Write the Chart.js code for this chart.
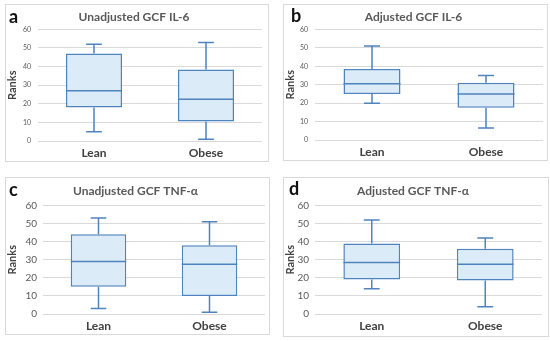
<!DOCTYPE html>
<html lang="en">
  <head>
    <meta charset="UTF-8" />
    <title>GCF IL-6 / TNF-alpha ranks</title>
    <script src="https://cdn.jsdelivr.net/npm/chart.js"></script>
    <style>
      body { margin: 0; background: #fff; width: 550px; height: 341px; position: relative; overflow: hidden; }
      .panel { position: absolute; border: 1px solid #d9d9d9; box-sizing: border-box; }
      .panel canvas { position: absolute; left: 0; top: 0; }
      .letter { position: absolute; font-family: Lato, "Open Sans", Arial, sans-serif; font-weight: 700; font-size: 18px; color: #111; line-height: 1; }
    </style>
  </head>
  <body>
    <div class="panel" id="pa" style="left:5px;top:4px;width:264px;height:158px"><canvas id="ca" width="262" height="156"></canvas></div>
    <div class="panel" id="pb" style="left:283px;top:4px;width:265px;height:157px"><canvas id="cb" width="263" height="155"></canvas></div>
    <div class="panel" id="pc" style="left:5px;top:177px;width:265px;height:158px"><canvas id="cc" width="263" height="156"></canvas></div>
    <div class="panel" id="pd" style="left:283px;top:177px;width:266px;height:160px"><canvas id="cd" width="264" height="158"></canvas></div>
    <span class="letter" style="left:9px;top:7px">a</span>
    <span class="letter" style="left:291px;top:6px">b</span>
    <span class="letter" style="left:9px;top:180px">c</span>
    <span class="letter" style="left:289px;top:179px">d</span>

    <script>
      // categories
      const groups = ["Lean", "Obese"];
      const yTicks = [0, 10, 20, 30, 40, 50, 60];

      // five number summaries: [min, q1, median, q3, max]
      const unadjIL6Lean = [5, 18, 27, 47, 52];
      const unadjIL6Obese = [1, 10.5, 22.5, 38.5, 53];
      const adjIL6Lean = [20, 25, 30.5, 38.5, 51];
      const adjIL6Obese = [6.5, 17.5, 25, 31, 35];
      const unadjTNFLean = [3, 15, 29, 44, 53];
      const unadjTNFObese = [1, 10, 27.5, 38, 51];
      const adjTNFLean = [14, 19, 28.5, 39, 52];
      const adjTNFObese = [4, 18.5, 27.5, 36, 42];

      const FONT = "Lato, 'Open Sans', Arial, sans-serif";
      const BOX_FILL = "#dcebf8";
      const BOX_LINE = "#4f83bd";

      // whiskers + median, drawn from the y scale
      const whiskerPlugin = {
        id: "whiskers",
        afterDatasetsDraw(chart) {
          const ctx = chart.ctx;
          const y = chart.scales.y;
          const stats = chart.options.plugins.whiskers.stats;
          const meta = chart.getDatasetMeta(0);
          ctx.save();
          ctx.strokeStyle = BOX_LINE;
          ctx.lineWidth = 1.5;
          meta.data.forEach((bar, i) => {
            const s = stats[i];
            const half = bar.width / 2;
            const cap = bar.width * 0.14;
            const yMin = y.getPixelForValue(s[0]);
            const yQ1 = y.getPixelForValue(s[1]);
            const yMed = y.getPixelForValue(s[2]);
            const yQ3 = y.getPixelForValue(s[3]);
            const yMax = y.getPixelForValue(s[4]);
            ctx.beginPath();
            ctx.moveTo(bar.x - half, yMed); ctx.lineTo(bar.x + half, yMed);
            ctx.moveTo(bar.x, yQ3); ctx.lineTo(bar.x, yMax);
            ctx.moveTo(bar.x - cap, yMax); ctx.lineTo(bar.x + cap, yMax);
            ctx.moveTo(bar.x, yQ1); ctx.lineTo(bar.x, yMin);
            ctx.moveTo(bar.x - cap, yMin); ctx.lineTo(bar.x + cap, yMin);
            ctx.stroke();
          });
          ctx.restore();
        },
      };

      function makeBox(id, title, lean, obese, opt) {
        const stats = [lean, obese];
        new Chart(document.getElementById(id), {
          type: "bar",
          data: {
            labels: groups,
            datasets: [
              {
                data: stats.map((s) => [s[1], s[3]]),
                backgroundColor: BOX_FILL,
                borderColor: BOX_LINE,
                borderWidth: 1.5,
                borderSkipped: false,
                categoryPercentage: 1,
                barPercentage: 0.5,
              },
            ],
          },
          options: {
            responsive: false,
            animation: false,
            layout: { padding: { left: 0, right: opt.right, top: 0, bottom: 0 } },
            plugins: {
              legend: { display: false },
              tooltip: { enabled: false },
              title: {
                display: true,
                text: title,
                color: "#595959",
                font: { family: FONT, size: 12, weight: "bold" },
                padding: { top: opt.titleTop, bottom: opt.titleBottom },
              },
              whiskers: { stats: stats },
            },
            scales: {
              x: {
                grid: { display: false, drawTicks: false },
                border: { display: false },
                ticks: { color: "#404040", font: { family: FONT, size: 12, weight: "bold" }, padding: opt.catPad },
                afterFit: (s) => { s.height = opt.xh; },
              },
              y: {
                min: 0,
                max: 60,
                afterBuildTicks: (s) => { s.ticks = yTicks.map((v) => ({ value: v })); },
                grid: { color: "#d9d9d9", drawTicks: false, lineWidth: 1 },
                border: { display: false },
                ticks: { color: "#595959", font: { family: FONT, size: opt.tickSize }, padding: opt.tickPad },
                title: { display: true, text: "Ranks", color: "#404040", font: { family: FONT, size: 11, weight: "bold" }, padding: { top: 0, bottom: opt.rankPad } },
                afterFit: (s) => { s.width = opt.yw; },
              },
            },
          },
          plugins: [whiskerPlugin],
        });
      }

      makeBox("ca", "Unadjusted GCF IL-6", unadjIL6Lean, unadjIL6Obese,
        { right: 6, yw: 32, xh: 20, titleTop: 5, titleBottom: 5, tickSize: 7, tickPad: 7, rankPad: 3, catPad: 5 });
      makeBox("cb", "Adjusted GCF IL-6", adjIL6Lean, adjIL6Obese,
        { right: 4, yw: 31, xh: 20, titleTop: 5, titleBottom: 5, tickSize: 7, tickPad: 7, rankPad: 3, catPad: 5 });
      makeBox("cc", "Unadjusted GCF TNF-\u03B1", unadjTNFLean, unadjTNFObese,
        { right: 4, yw: 37, xh: 20, titleTop: 6, titleBottom: 7, tickSize: 10, tickPad: 6, rankPad: 2, catPad: 5 });
      makeBox("cd", "Adjusted GCF TNF-\u03B1", adjTNFLean, adjTNFObese,
        { right: 6, yw: 31, xh: 22, titleTop: 6, titleBottom: 7, tickSize: 10, tickPad: 6, rankPad: 2, catPad: 5 });
    </script>
  </body>
</html>
